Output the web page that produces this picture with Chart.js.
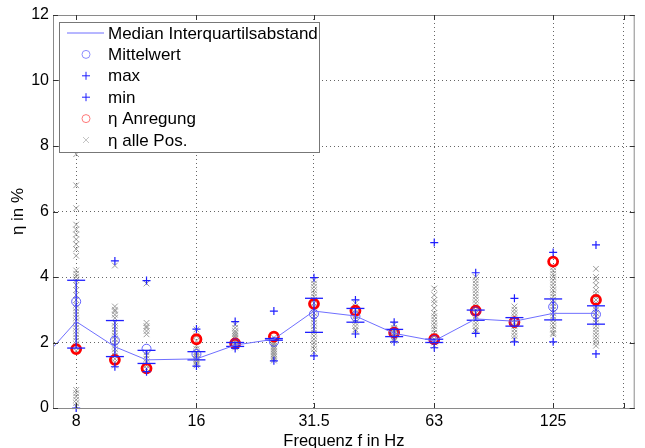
<!DOCTYPE html>
<html>
<head>
<meta charset="utf-8">
<script src="https://cdn.jsdelivr.net/npm/chart.js@4"></script>
<style>
html, body { margin: 0; padding: 0; background: #fff; overflow: hidden; }
#wrap { width: 645px; height: 448px; }
</style>
</head>
<body>
<div id="wrap"><canvas id="chart" width="645" height="448"></canvas></div>
<script>
// third-octave centre frequencies (6.3 Hz only shows up as the clipped start of the median line)
const freqs = [6.3, 8, 10, 12, 16, 20, 25, 31.5, 40, 50, 63, 80, 100, 125, 160];
const medianVals = [1.23, 2.64, 1.87, 1.47, 1.5, 1.92, 2.1, 2.96, 2.81, 2.28, 2.05, 2.72, 2.65, 2.89, 2.89];
const q1Vals = [null, 1.83, 1.57, 1.36, 1.47, 1.88, 2.07, 2.31, 2.62, 2.18, 2.0, 2.68, 2.5, 2.69, 2.56];
const q3Vals = [null, 3.9, 2.67, 1.76, 1.72, 2.0, 2.12, 3.35, 3.04, 2.4, 2.1, 2.99, 2.76, 3.33, 3.12];
const meanVals = [null, 3.25, 2.06, 1.81, 1.65, 1.98, 2.02, 2.87, 2.8, 2.3, 2.08, 2.95, 2.62, 3.09, 2.86];
const maxVals = [null, 9.5, 4.49, 3.89, 2.41, 2.64, 2.96, 3.98, 3.3, 2.62, 5.05, 4.13, 3.35, 4.75, 4.98];
const minVals = [null, 0.0, 1.26, 1.11, 1.28, 1.82, 1.44, 1.59, 2.26, 2.02, 1.84, 2.28, 2.02, 2.02, 1.65];
const anregVals = [null, 1.8, 1.47, 1.21, 2.1, 1.97, 2.18, 3.18, 2.97, 2.3, 2.1, 2.97, 2.62, 4.47, 3.3];
// eta at all positions, one list per frequency
const allPos = [
  [],
  [0.05, 0.15, 0.25, 0.35, 0.45, 0.55, 1.75, 1.85, 1.95, 2.05, 2.15, 2.25, 2.35, 2.45, 2.55, 2.65, 2.75, 2.85, 2.95, 3.05, 3.15, 3.3, 3.45, 3.6, 3.75, 3.9, 4.0, 4.1, 4.2, 4.65, 4.85, 5.0, 5.15, 5.3, 5.45, 5.6, 6.1, 6.8, 7.75],
  [4.35, 3.1, 3.0, 2.95, 2.85, 2.75, 2.6, 2.5, 2.4, 2.3, 2.2, 2.1, 2.0, 1.9, 1.8, 1.7, 1.6, 1.5, 1.4, 1.3],
  [3.8, 2.6, 2.5, 2.45, 2.35, 2.25, 1.7, 1.6, 1.5, 1.4, 1.3, 1.2],
  [2.4, 2.2, 2.05, 1.9, 1.8, 1.7, 1.65, 1.6, 1.55, 1.5, 1.45, 1.4, 1.35, 1.3],
  [2.55, 2.45, 2.35, 2.3, 2.25, 2.2, 2.15, 2.1, 2.05, 2.0, 1.95, 1.9, 1.85],
  [2.15, 2.05, 2.0, 1.95, 1.9, 1.85, 1.8, 1.75, 1.7, 1.65, 1.6, 1.55, 1.5, 1.45],
  [3.9, 3.8, 3.7, 3.6, 3.5, 3.4, 3.3, 3.2, 3.1, 3.0, 2.9, 2.8, 2.7, 2.6, 2.5, 2.4, 2.3, 2.2, 2.1, 2.0, 1.9, 1.8, 1.7],
  [3.2, 3.1, 3.0, 2.9, 2.8, 2.7, 2.6, 2.5, 2.4, 2.35],
  [2.55, 2.45, 2.4, 2.35, 2.3, 2.25, 2.2, 2.15, 2.1, 2.05],
  [3.65, 3.45, 3.3, 3.2, 3.05, 2.9, 2.8, 2.7, 2.6, 2.5, 2.4, 2.3, 2.2, 2.1, 2.0, 1.9],
  [4.0, 3.9, 3.8, 3.7, 3.6, 3.5, 3.4, 3.3, 3.2, 3.1, 3.0, 2.9, 2.8, 2.7, 2.6, 2.5, 2.4, 2.35],
  [3.1, 3.0, 2.9, 2.8, 2.7, 2.6, 2.5, 2.4, 2.3, 2.2, 2.1],
  [4.3, 4.2, 4.1, 4.0, 3.9, 3.8, 3.7, 3.6, 3.5, 3.4, 3.3, 3.2, 3.1, 3.0, 2.9, 2.8, 2.7, 2.6, 2.5, 2.4, 2.3, 2.25],
  [4.25, 4.0, 3.9, 3.75, 3.6, 3.5, 3.4, 3.3, 3.2, 3.1, 3.0, 2.9, 2.8, 2.7, 2.6, 2.5, 2.4, 2.3, 2.2, 2.1, 2.0, 1.9]
];
const xTicks = [8, 16, 31.5, 63, 125, 188];
const xTickLabels = ['8', '16', '31.5', '63', '125', ''];
const yTicks = [0, 2, 4, 6, 8, 10, 12];
const legendLabels = ['Median Interquartilsabstand', 'Mittelwert', 'max', 'min', 'η Anregung', 'η alle Pos.'];

const FONT = '"Liberation Sans", Arial, sans-serif';
const BLUE = '#1f1fff';

function pts(vals) {
  const out = [];
  freqs.forEach((f, i) => { if (vals[i] !== null) out.push({ x: f, y: vals[i] }); });
  return out;
}

// vertical interquartile segments, broken by null points
const iqrSegs = [];
freqs.forEach((f, i) => {
  if (q1Vals[i] === null) return;
  iqrSegs.push({ x: f, y: q1Vals[i] }, { x: f, y: q3Vals[i] }, { x: f, y: null });
});
const capPts = pts(q1Vals).concat(pts(q3Vals));
const greyPts = [];
freqs.forEach((f, i) => allPos[i].forEach(v => greyPts.push({ x: f, y: v })));

// plot box and inward tick marks like the original figure
const frame = {
  id: 'frame',
  afterDatasetsDraw(chart) {
    const { ctx, chartArea: a, scales } = chart;
    ctx.save();
    ctx.strokeStyle = '#8a8a8a';
    ctx.lineWidth = 1;
    ctx.strokeRect(a.left + 0.5, a.top + 0.5, a.right - a.left - 1, a.bottom - a.top);
    ctx.strokeStyle = '#333';
    ctx.beginPath();
    xTicks.forEach(v => {
      const x = Math.round(scales.x.getPixelForValue(v)) + 0.5;
      ctx.moveTo(x, a.bottom); ctx.lineTo(x, a.bottom - 5);
      ctx.moveTo(x, a.top); ctx.lineTo(x, a.top + 5);
    });
    yTicks.forEach(v => {
      const y = Math.round(scales.y.getPixelForValue(v)) + 0.5;
      ctx.moveTo(a.left, y); ctx.lineTo(a.left + 5, y);
      ctx.moveTo(a.right, y); ctx.lineTo(a.right - 5, y);
    });
    ctx.stroke();
    ctx.restore();
  }
};

// matlab style legend box in the upper left corner
const boxLegend = {
  id: 'boxLegend',
  afterDraw(chart) {
    const ctx = chart.ctx;
    const bx = 59, by = 22, bw = 260, bh = 130;
    ctx.save();
    ctx.fillStyle = '#fff';
    ctx.fillRect(bx, by, bw, bh);
    ctx.strokeStyle = '#777';
    ctx.lineWidth = 1;
    ctx.strokeRect(bx + 0.5, by + 0.5, bw, bh);
    ctx.font = '17px ' + FONT;
    ctx.textBaseline = 'middle';
    legendLabels.forEach((t, i) => {
      const y = 33 + i * 21.4;
      const mx = 86;
      ctx.lineWidth = 1;
      ctx.beginPath();
      if (i === 0) {
        ctx.strokeStyle = '#6f6fff';
        ctx.moveTo(67, y); ctx.lineTo(104, y);
      } else if (i === 1) {
        ctx.strokeStyle = '#8c8cff';
        ctx.arc(mx, y, 4, 0, Math.PI * 2);
      } else if (i === 2 || i === 3) {
        ctx.strokeStyle = BLUE;
        ctx.moveTo(mx - 4, y); ctx.lineTo(mx + 4, y);
        ctx.moveTo(mx, y - 4); ctx.lineTo(mx, y + 4);
      } else if (i === 4) {
        ctx.strokeStyle = '#ff7a7a';
        ctx.arc(mx, y, 4, 0, Math.PI * 2);
      } else {
        ctx.strokeStyle = '#c4c4c4';
        ctx.moveTo(mx - 3, y - 3); ctx.lineTo(mx + 3, y + 3);
        ctx.moveTo(mx + 3, y - 3); ctx.lineTo(mx - 3, y + 3);
      }
      ctx.stroke();
      ctx.fillStyle = '#000';
      ctx.fillText(t, 108, y + 1);
    });
    ctx.restore();
  }
};

new Chart(document.getElementById('chart'), {
  type: 'scatter',
  data: {
    datasets: [
      { type: 'line', label: 'median', data: pts(medianVals), borderColor: '#6f6fff', borderWidth: 1, pointRadius: 0, tension: 0 },
      { type: 'line', label: 'iqr', data: iqrSegs, borderColor: BLUE, borderWidth: 1.2, pointRadius: 0, spanGaps: false },
      { label: 'caps', data: capPts, pointStyle: 'line', pointRadius: 9, borderColor: BLUE, borderWidth: 1.3, clip: false },
      { label: 'max', data: pts(maxVals), pointStyle: 'cross', pointRadius: 4, borderColor: BLUE, borderWidth: 1.2, clip: false },
      { label: 'min', data: pts(minVals), pointStyle: 'cross', pointRadius: 4, borderColor: BLUE, borderWidth: 1.2, clip: false },
      { label: 'mean', data: pts(meanVals), pointStyle: 'circle', pointRadius: 4.5, backgroundColor: 'rgba(0,0,0,0)', borderColor: 'rgba(50,50,255,0.75)', borderWidth: 1, clip: false },
      { label: 'anregung', data: pts(anregVals), pointStyle: 'circle', pointRadius: 4.5, backgroundColor: 'rgba(0,0,0,0)', borderColor: '#ff0000', borderWidth: 2.8, clip: false },
      { label: 'alle', data: greyPts, pointStyle: 'crossRot', pointRadius: 4, borderColor: 'rgba(140,140,140,0.85)', borderWidth: 1, clip: false }
    ]
  },
  options: {
    responsive: false,
    animation: false,
    layout: { padding: { left: 0, right: 1, top: 15, bottom: 0 } },
    plugins: { legend: { display: false }, tooltip: { enabled: false } },
    scales: {
      x: {
        type: 'logarithmic',
        min: 7,
        max: 200,
        afterBuildTicks: s => { s.ticks = xTicks.map(v => ({ value: v })); },
        afterFit: s => { s.height = 40; },
        ticks: {
          autoSkip: false, maxRotation: 0, padding: 4, color: '#000',
          font: { family: FONT, size: 16 },
          callback: (v) => { const k = xTicks.indexOf(v); return k >= 0 ? xTickLabels[k] : ''; }
        },
        grid: { color: '#666', drawTicks: false, lineWidth: 1 },
        border: { color: '#8a8a8a', width: 1, dash: [1, 3] },
        title: { display: true, text: 'Frequenz f in Hz', color: '#000', font: { family: FONT, size: 16.5 }, padding: { top: 0, bottom: -3 } }
      },
      y: {
        min: 0,
        max: 12,
        afterBuildTicks: s => { s.ticks = yTicks.map(v => ({ value: v })); },
        afterFit: s => { s.width = 53; },
        ticks: { padding: 4, color: '#000', font: { family: FONT, size: 16 } },
        grid: { color: '#666', drawTicks: false, lineWidth: 1 },
        border: { color: '#8a8a8a', width: 1, dash: [1, 3] },
        title: { display: true, text: 'η in %', color: '#000', font: { family: FONT, size: 17 }, padding: { top: 8, bottom: 0 } }
      }
    }
  },
  plugins: [frame, boxLegend]
});
</script>
</body>
</html>
